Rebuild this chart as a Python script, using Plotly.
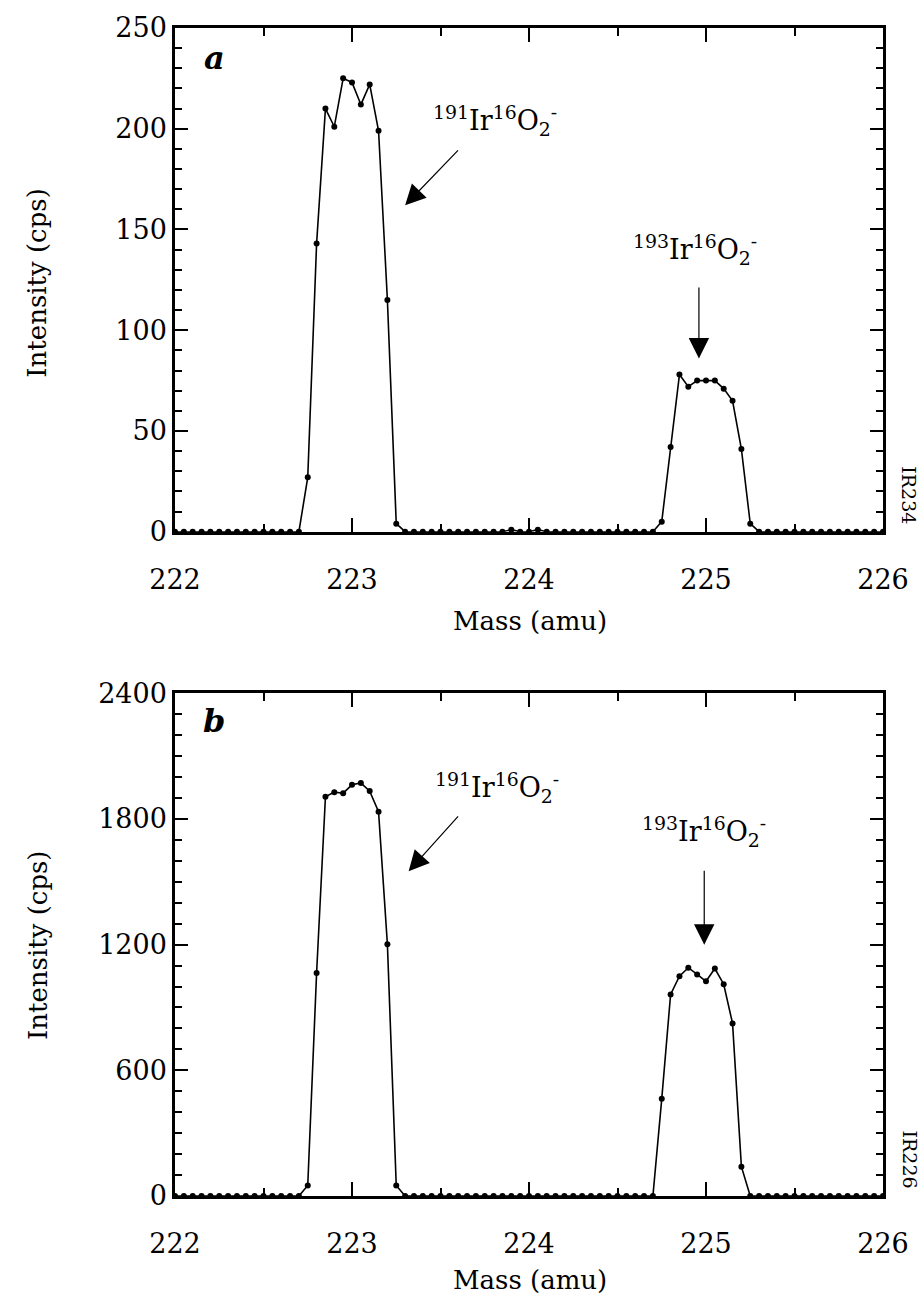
import plotly.graph_objects as go

# ---------------- data ----------------
mass = [
    222.00, 222.05, 222.10, 222.15, 222.20, 222.25, 222.30, 222.35, 222.40, 222.45,
    222.50, 222.55, 222.60, 222.65, 222.70, 222.75, 222.80, 222.85, 222.90, 222.95,
    223.00, 223.05, 223.10, 223.15, 223.20, 223.25, 223.30, 223.35, 223.40, 223.45,
    223.50, 223.55, 223.60, 223.65, 223.70, 223.75, 223.80, 223.85, 223.90, 223.95,
    224.00, 224.05, 224.10, 224.15, 224.20, 224.25, 224.30, 224.35, 224.40, 224.45,
    224.50, 224.55, 224.60, 224.65, 224.70, 224.75, 224.80, 224.85, 224.90, 224.95,
    225.00, 225.05, 225.10, 225.15, 225.20, 225.25, 225.30, 225.35, 225.40, 225.45,
    225.50, 225.55, 225.60, 225.65, 225.70, 225.75, 225.80, 225.85, 225.90, 225.95,
    226.00,
]

intensity_a = [
    0, 0, 0, 0, 0, 0, 0, 0, 0, 0,
    0, 0, 0, 0, 0, 27, 143, 210, 201, 225,
    223, 212, 222, 199, 115, 4, 0, 0, 0, 0,
    0, 0, 0, 0, 0, 0, 0, 0, 1, 0,
    0, 1, 0, 0, 0, 0, 0, 0, 0, 0,
    0, 0, 0, 0, 0, 5, 42, 78, 72, 75,
    75, 75, 71, 65, 41, 4, 0, 0, 0, 0,
    0, 0, 0, 0, 0, 0, 0, 0, 0, 0,
    0,
]

intensity_b = [
    0, 0, 0, 0, 0, 0, 0, 0, 0, 0,
    0, 0, 0, 0, 0, 50, 1065, 1906, 1928, 1923,
    1963, 1972, 1933, 1835, 1202, 50, 0, 0, 0, 0,
    0, 0, 0, 0, 0, 0, 0, 0, 0, 0,
    0, 0, 0, 0, 0, 0, 0, 0, 0, 0,
    0, 0, 0, 0, 0, 464, 962, 1049, 1090, 1058,
    1025, 1086, 1011, 824, 140, 0, 0, 0, 0, 0,
    0, 0, 0, 0, 0, 0, 0, 0, 0, 0,
    0,
]

x_ticks = [222, 223, 224, 225, 226]
y_ticks_a = [0, 50, 100, 150, 200, 250]
y_ticks_b = [0, 600, 1200, 1800, 2400]

label_191 = "<sup>191</sup>Ir<sup>16</sup>O<sub>2</sub><sup>-</sup>"
label_193 = "<sup>193</sup>Ir<sup>16</sup>O<sub>2</sub><sup>-</sup>"

# ---------------- figure ----------------
FONT = "DejaVu Serif"
W, H = 921, 1297
ML, MR, MT, MB = 175, 26, 25, 101
plot_h = H - MT - MB


def py(Y):
    return (H - MB - Y) / plot_h


def px(X):
    return (X - ML) / (W - ML - MR)


fig = go.Figure()
line = dict(color="black", width=1.6)
marker = dict(color="black", size=6)
fig.add_trace(go.Scatter(x=mass, y=intensity_a, mode="lines+markers",
                         line=line, marker=marker, xaxis="x", yaxis="y",
                         showlegend=False, cliponaxis=False))
fig.add_trace(go.Scatter(x=mass, y=intensity_b, mode="lines+markers",
                         line=line, marker=marker, xaxis="x2", yaxis="y2",
                         showlegend=False, cliponaxis=False))

dom_a = [py(530), 1.0]
dom_b = [0.0, py(692)]

xcommon = dict(range=[222, 226], tickvals=x_ticks, ticks="inside", ticklen=14,
               tickwidth=2, tickcolor="black", showline=True, linewidth=2.5,
               linecolor="black", mirror="ticks", showgrid=False, zeroline=False,
               ticklabelstandoff=22,
               tickfont=dict(family=FONT, size=27, color="black"),
               minor=dict(dtick=0.5, ticks="inside", ticklen=8, tickwidth=2,
                          tickcolor="black", showgrid=False))
ycommon = dict(ticks="inside", ticklen=13, tickwidth=2, tickcolor="black",
               showline=True, linewidth=2.5, linecolor="black", mirror="ticks",
               showgrid=False, zeroline=False,
               tickfont=dict(family=FONT, size=27, color="black"))

fig.update_layout(
    width=W, height=H,
    margin=dict(l=ML, r=MR, t=MT, b=MB),
    paper_bgcolor="white", plot_bgcolor="white",
    xaxis=dict(**xcommon, anchor="y"),
    xaxis2=dict(**xcommon, anchor="y2"),
    yaxis=dict(**ycommon, domain=dom_a, range=[0, 250], tickvals=y_ticks_a,
               anchor="x",
               minor=dict(dtick=10, ticks="inside", ticklen=7, tickwidth=2,
                          tickcolor="black", showgrid=False)),
    yaxis2=dict(**ycommon, domain=dom_b, range=[0, 2400], tickvals=y_ticks_b,
                anchor="x2",
                minor=dict(dtick=100, ticks="inside", ticklen=7, tickwidth=2,
                           tickcolor="black", showgrid=False)),
)

ann = []
tf = dict(family=FONT, size=26, color="black")
ctr = dict(xanchor="center", yanchor="middle", showarrow=False)
# axis titles
ann.append(dict(text="Intensity (cps)", xref="paper", yref="paper", x=px(35),
                y=py(280), textangle=-90, font=tf, **ctr))
ann.append(dict(text="Intensity (cps)", xref="paper", yref="paper", x=px(35),
                y=py(944), textangle=-90, font=tf, **ctr))
ann.append(dict(text="Mass (amu)", xref="paper", yref="paper", x=px(536),
                y=py(620), font=tf, **ctr))
ann.append(dict(text="Mass (amu)", xref="paper", yref="paper", x=px(536),
                y=py(1280), font=tf, **ctr))
# panel letters
lf = dict(family=FONT, size=32, color="black")
ann.append(dict(text="<b><i>a</i></b>", xref="paper", yref="paper", x=px(215),
                y=py(55), font=lf, **ctr))
ann.append(dict(text="<b><i>b</i></b>", xref="paper", yref="paper", x=px(215),
                y=py(720), font=lf, **ctr))
# side codes
sf = dict(family=FONT, size=19, color="black")
ann.append(dict(text="IR234", xref="paper", yref="paper", x=px(922),
                y=py(493), textangle=90, font=sf, **ctr))
ann.append(dict(text="IR226", xref="paper", yref="paper", x=px(922),
                y=py(1159), textangle=90, font=sf, **ctr))

# peak labels
pf = dict(family=FONT, size=27, color="black")
ann.append(dict(text=label_191, xref="x", yref="y", x=223.81, y=204,
                font=pf, **ctr))
ann.append(dict(text=label_193, xref="x", yref="y", x=224.94, y=140,
                font=pf, **ctr))
ann.append(dict(text=label_191, xref="x2", yref="y2", x=223.82, y=1950,
                font=pf, **ctr))
ann.append(dict(text=label_193, xref="x2", yref="y2", x=224.99, y=1740,
                font=pf, **ctr))

# arrows
arr = dict(text="", showarrow=True, arrowhead=2, arrowsize=3.4, arrowwidth=1.2,
           arrowcolor="black")
ann.append(dict(**arr, xref="x", yref="y", axref="x", ayref="y",
                x=223.30, y=162, ax=223.607, ay=190))
ann.append(dict(**arr, xref="x", yref="y", axref="x", ayref="y",
                x=224.96, y=86, ax=224.96, ay=122))
ann.append(dict(**arr, xref="x2", yref="y2", axref="x2", ayref="y2",
                x=223.32, y=1550, ax=223.607, ay=1820))
ann.append(dict(**arr, xref="x2", yref="y2", axref="x2", ayref="y2",
                x=224.99, y=1200, ax=224.99, ay=1560))

fig.update_layout(annotations=ann)
fig.write_html("out.html")
